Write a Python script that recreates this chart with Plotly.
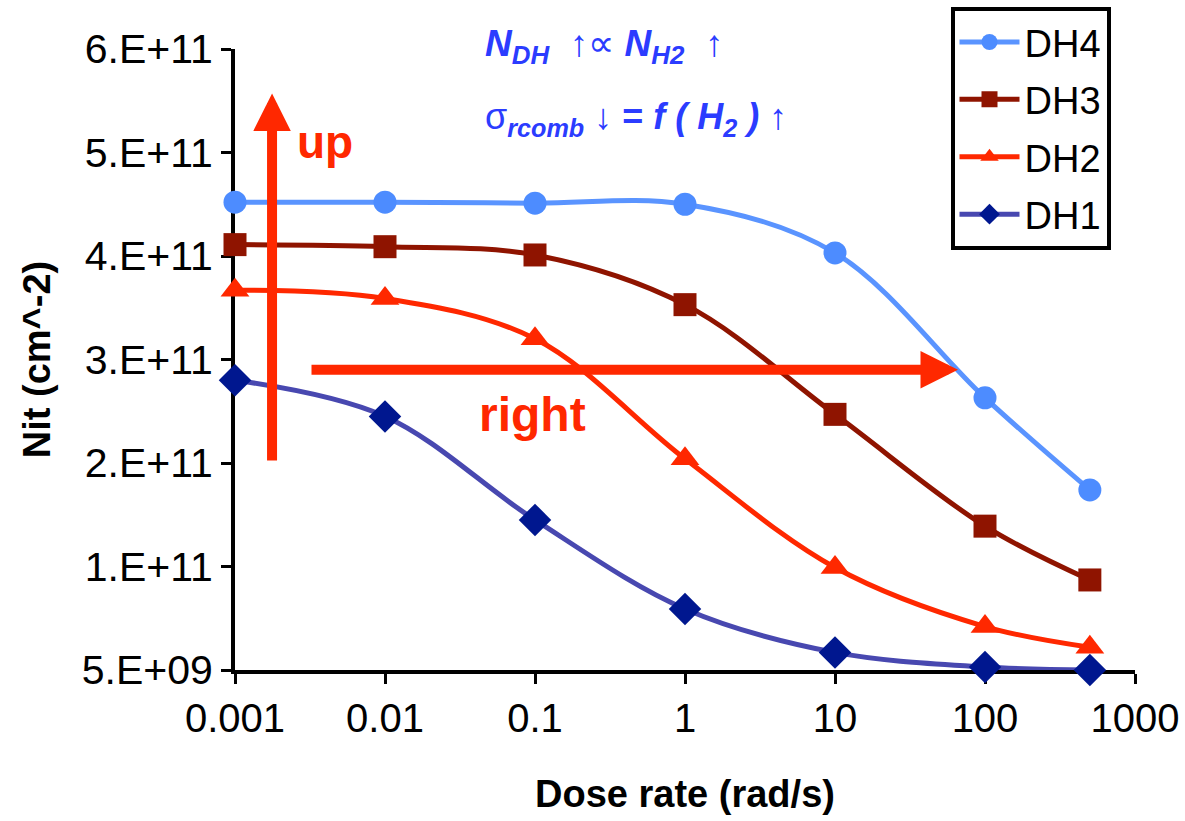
import plotly.graph_objects as go

dose = [0.001, 0.01, 0.1, 1, 10, 100, 500]
dh4 = [4.57e11, 4.57e11, 4.56e11, 4.55e11, 4.08e11, 2.68e11, 1.79e11]
dh3 = [4.16e11, 4.14e11, 4.06e11, 3.58e11, 2.52e11, 1.44e11, 0.92e11]
dh2 = [3.72e11, 3.64e11, 3.25e11, 2.09e11, 1.04e11, 0.47e11, 0.27e11]
dh1 = [2.85e11, 2.50e11, 1.50e11, 0.64e11, 0.22e11, 0.08e11, 0.05e11]

x_ticks = [0.001, 0.01, 0.1, 1, 10, 100, 1000]
x_tick_text = ["0.001", "0.01", "0.1", "1", "10", "100", "1000"]
y_ticks = [5e9, 1.05e11, 2.05e11, 3.05e11, 4.05e11, 5.05e11, 6.05e11]
y_tick_text = ["5.E+09", "1.E+11", "2.E+11", "3.E+11", "4.E+11", "5.E+11", "6.E+11"]

series = [
    ("DH4", dh4, "#4d8cff", "#5a94ff", "circle", 23),
    ("DH3", dh3, "#8f1400", "#8f1400", "square", 23),
    ("DH2", dh2, "#ff2800", "#ff2800", "triangle-up", 25),
    ("DH1", dh1, "#00178f", "#4848b0", "diamond", 25),
]

FONT = "Liberation Sans, Arial, sans-serif"
fig = go.Figure()
for name, vals, mcol, lcol, sym, size in series:
    fig.add_trace(go.Scatter(
        x=dose, y=vals, name=name, mode="lines+markers", legendgroup=name,
        line=dict(color=lcol, width=5, shape="spline", smoothing=1.0),
        marker=dict(color=mcol, symbol=sym, size=size, line=dict(width=0)),
        cliponaxis=False,
    ))

RED = "#ff2800"
BLUE = "#2b3cff"
# up arrow
fig.add_annotation(x=-2.753, y=5.62e11, ax=-2.753, ay=2.06e11, xref="x", yref="y",
                   axref="x", ayref="y", text="", showarrow=True,
                   arrowhead=2, arrowsize=0.75, arrowwidth=10, arrowcolor=RED)
fig.add_annotation(x=-2.4, y=5.15e11, xref="x", yref="y", text="<b>up</b>",
                   showarrow=False, font=dict(family=FONT, size=46, color=RED))
# right arrow
fig.add_annotation(x=1.82, y=2.95e11, ax=-2.5, ay=2.95e11, xref="x", yref="y",
                   axref="x", ayref="y", text="", showarrow=True,
                   arrowhead=2, arrowsize=0.75, arrowwidth=10, arrowcolor=RED)
fig.add_annotation(x=-1.02, y=2.52e11, xref="x", yref="y", text="<b>right</b>",
                   showarrow=False, font=dict(family=FONT, size=48, color=RED))

fig.add_annotation(xref="paper", yref="paper", x=0.275, y=1.005, xanchor="left", yanchor="middle",
                   text="<b><i>N<sub>DH</sub></i></b>  ↑∝ <b><i>N<sub>H2</sub></i></b>  ↑",
                   showarrow=False, font=dict(family=FONT, size=37, color=BLUE))
fig.add_annotation(xref="paper", yref="paper", x=0.275, y=0.888, xanchor="left", yanchor="middle",
                   text="σ<sub><b><i>rcomb</i></b></sub> ↓ <b>=</b> <b><i>f ( H<sub>2</sub> )</i></b> ↑",
                   showarrow=False, font=dict(family=FONT, size=36, color=BLUE))

fig.update_layout(
    width=1185, height=821,
    margin=dict(l=235, r=50, t=49, b=151, autoexpand=False),
    paper_bgcolor="white", plot_bgcolor="white",
    font=dict(family=FONT, color="black"),
    showlegend=True,
    legend=dict(x=0.795, y=1.068, xanchor="left", yanchor="top",
                bordercolor="black", borderwidth=4, bgcolor="white",
                font=dict(family=FONT, size=38, color="black"),
                itemwidth=60, tracegroupgap=5),
    xaxis=dict(type="log", range=[-3, 3], tickvals=x_ticks, ticktext=x_tick_text,
               showgrid=False, zeroline=False, showline=True, linecolor="black", linewidth=4,
               ticks="outside", ticklen=10, tickwidth=3, tickcolor="black",
               tickfont=dict(family=FONT, size=40, color="black"), layer="below traces",
               automargin=False,
               title=dict(text="<b>Dose rate (rad/s)</b>", font=dict(family=FONT, size=38), standoff=42)),
    yaxis=dict(range=[5e9, 6.05e11], tickvals=y_ticks, ticktext=y_tick_text,
               showgrid=False, zeroline=False, showline=True, linecolor="black", linewidth=4,
               ticks="outside", ticklen=10, tickwidth=3, tickcolor="black",
               tickfont=dict(family=FONT, size=41, color="black"), layer="below traces",
               automargin=False,
               title=dict(text="<b>Nit (cm^-2)</b>", font=dict(family=FONT, size=38), standoff=20)),
)

fig.write_html("out.html")
